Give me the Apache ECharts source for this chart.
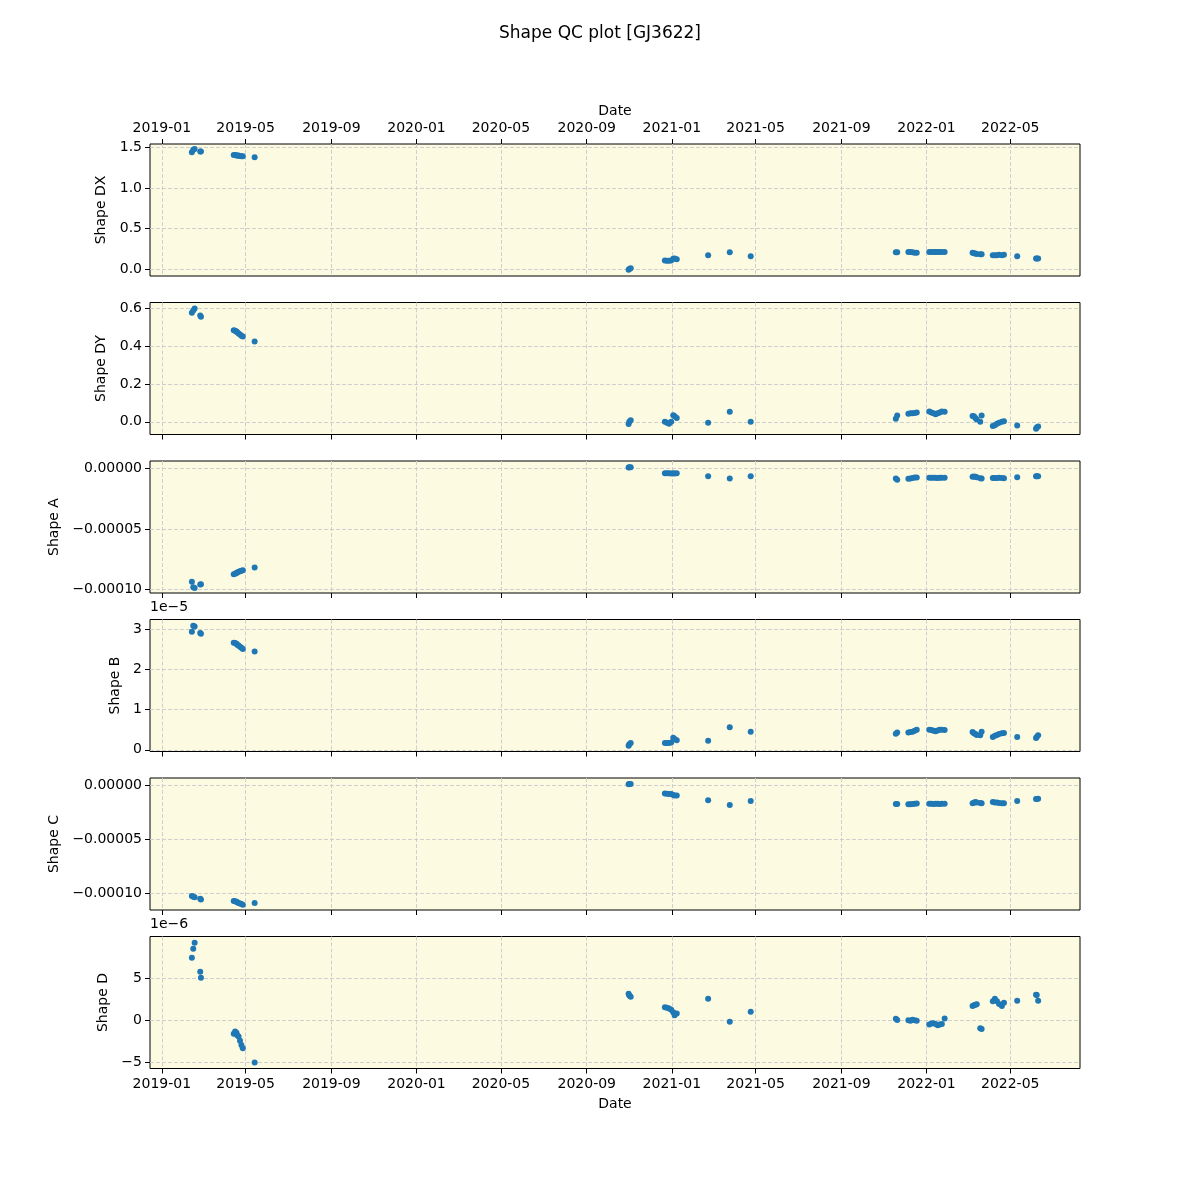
<!DOCTYPE html>
<html>
<head>
<meta charset="utf-8">
<title>Shape QC plot [GJ3622]</title>
<script src="https://cdn.jsdelivr.net/npm/echarts@6/dist/echarts.min.js"></script>
<style>
html, body { margin: 0; padding: 0; background: #fff; }
#chart { width: 1200px; height: 1200px; }
</style>
</head>
<body>
<div id="chart"></div>
<script>
// observation dates (shared by every panel)
const dates = [
    '2019-02-13', '2019-02-15', '2019-02-17', '2019-02-25', '2019-02-26',
    '2019-04-14', '2019-04-16', '2019-04-18', '2019-04-19', '2019-04-21', '2019-04-23', '2019-04-25', '2019-04-27',
    '2019-05-14',
    '2020-10-31', '2020-11-01', '2020-11-03',
    '2020-12-22', '2020-12-25', '2020-12-28', '2020-12-31', '2021-01-03', '2021-01-05', '2021-01-08',
    '2021-02-22', '2021-03-25', '2021-04-24',
    '2021-11-18', '2021-11-20',
    '2021-12-06', '2021-12-09', '2021-12-12', '2021-12-15', '2021-12-18',
    '2022-01-05', '2022-01-08', '2022-01-11', '2022-01-14', '2022-01-17', '2022-01-20', '2022-01-23', '2022-01-27',
    '2022-03-08', '2022-03-10', '2022-03-12', '2022-03-14', '2022-03-19', '2022-03-21',
    '2022-04-06', '2022-04-09', '2022-04-12', '2022-04-15', '2022-04-19', '2022-04-22',
    '2022-05-11',
    '2022-06-07', '2022-06-08', '2022-06-10',
]

const shapeDX = [
    1.44, 1.47, 1.48, 1.45, 1.45,
    1.405, 1.405, 1.40, 1.40, 1.40, 1.395, 1.39, 1.39,
    1.38,
    -0.01, 0.0, 0.01,
    0.105, 0.10, 0.10, 0.105, 0.125, 0.13, 0.12,
    0.17, 0.207, 0.158,
    0.207, 0.207,
    0.21, 0.21, 0.205, 0.20, 0.20,
    0.21, 0.21, 0.21, 0.21, 0.21, 0.21, 0.21, 0.21,
    0.20, 0.195, 0.19, 0.185, 0.18, 0.18,
    0.17, 0.17, 0.17, 0.175, 0.17, 0.175,
    0.158,
    0.13, 0.13, 0.13,
]

const shapeDY = [
    0.578, 0.59, 0.60, 0.563, 0.557,
    0.485, 0.483, 0.478, 0.474, 0.468, 0.462, 0.456, 0.452,
    0.425,
    -0.012, 0.0, 0.008,
    0.0, -0.005, -0.01, 0.0, 0.035, 0.03, 0.02,
    -0.005, 0.053, 0.0,
    0.016, 0.033,
    0.043, 0.045, 0.046, 0.047, 0.05,
    0.055, 0.05, 0.045, 0.04, 0.045, 0.05, 0.055, 0.053,
    0.031, 0.03, 0.02, 0.012, 0.0, 0.033,
    -0.022, -0.018, -0.01, -0.005, 0.0, 0.003,
    -0.02,
    -0.037, -0.03, -0.025,
]

const shapeA = [
    -9.34e-5, -9.80e-5, -9.86e-5, -9.58e-5, -9.56e-5,
    -8.72e-5, -8.68e-5, -8.62e-5, -8.58e-5, -8.52e-5, -8.48e-5, -8.44e-5, -8.40e-5,
    -8.18e-5,
    0.10e-5, 0.12e-5, 0.12e-5,
    -0.37e-5, -0.38e-5, -0.38e-5, -0.39e-5, -0.38e-5, -0.39e-5, -0.37e-5,
    -0.63e-5, -0.80e-5, -0.63e-5,
    -0.80e-5, -0.91e-5,
    -0.82e-5, -0.80e-5, -0.76e-5, -0.73e-5, -0.72e-5,
    -0.75e-5, -0.75e-5, -0.74e-5, -0.75e-5, -0.76e-5, -0.75e-5, -0.74e-5, -0.75e-5,
    -0.66e-5, -0.65e-5, -0.66e-5, -0.70e-5, -0.78e-5, -0.80e-5,
    -0.76e-5, -0.77e-5, -0.76e-5, -0.75e-5, -0.77e-5, -0.78e-5,
    -0.71e-5,
    -0.63e-5, -0.63e-5, -0.62e-5,
]

const shapeB = [
    2.93e-5, 3.08e-5, 3.06e-5, 2.90e-5, 2.88e-5,
    2.66e-5, 2.65e-5, 2.63e-5, 2.61e-5, 2.59e-5, 2.56e-5, 2.53e-5, 2.50e-5,
    2.44e-5,
    0.10e-5, 0.14e-5, 0.17e-5,
    0.17e-5, 0.17e-5, 0.17e-5, 0.18e-5, 0.30e-5, 0.27e-5, 0.24e-5,
    0.224e-5, 0.56e-5, 0.448e-5,
    0.40e-5, 0.43e-5,
    0.43e-5, 0.44e-5, 0.45e-5, 0.47e-5, 0.50e-5,
    0.50e-5, 0.49e-5, 0.47e-5, 0.46e-5, 0.48e-5, 0.50e-5, 0.50e-5, 0.49e-5,
    0.44e-5, 0.41e-5, 0.39e-5, 0.37e-5, 0.36e-5, 0.45e-5,
    0.32e-5, 0.35e-5, 0.37e-5, 0.39e-5, 0.41e-5, 0.42e-5,
    0.32e-5,
    0.29e-5, 0.32e-5, 0.36e-5,
]

const shapeC = [
    -10.25e-5, -10.32e-5, -10.38e-5, -10.52e-5, -10.58e-5,
    -10.72e-5, -10.75e-5, -10.80e-5, -10.85e-5, -10.90e-5, -10.95e-5, -11.00e-5, -11.08e-5,
    -10.90e-5,
    0.15e-5, 0.16e-5, 0.17e-5,
    -0.73e-5, -0.74e-5, -0.76e-5, -0.78e-5, -0.85e-5, -0.90e-5, -0.90e-5,
    -1.34e-5, -1.80e-5, -1.43e-5,
    -1.71e-5, -1.71e-5,
    -1.72e-5, -1.72e-5, -1.70e-5, -1.68e-5, -1.66e-5,
    -1.68e-5, -1.68e-5, -1.69e-5, -1.68e-5, -1.68e-5, -1.69e-5, -1.68e-5, -1.68e-5,
    -1.62e-5, -1.58e-5, -1.52e-5, -1.55e-5, -1.60e-5, -1.62e-5,
    -1.52e-5, -1.55e-5, -1.57e-5, -1.60e-5, -1.63e-5, -1.64e-5,
    -1.43e-5,
    -1.24e-5, -1.24e-5, -1.22e-5,
]

const shapeD = [
    7.5e-6, 8.57e-6, 9.29e-6, 5.83e-6, 5.12e-6,
    -1.55e-6, -1.3e-6, -1.45e-6, -1.75e-6, -1.9e-6, -2.4e-6, -2.9e-6, -3.3e-6,
    -5.0e-6,
    3.2e-6, 3.0e-6, 2.85e-6,
    1.6e-6, 1.55e-6, 1.45e-6, 1.3e-6, 1.0e-6, 0.65e-6, 0.85e-6,
    2.62e-6, -0.12e-6, 1.07e-6,
    0.24e-6, 0.07e-6,
    0.05e-6, 0.0, 0.1e-6, 0.05e-6, 0.0,
    -0.45e-6, -0.35e-6, -0.3e-6, -0.4e-6, -0.55e-6, -0.45e-6, -0.4e-6, 0.25e-6,
    1.75e-6, 1.85e-6, 1.9e-6, 1.95e-6, -0.9e-6, -1.0e-6,
    2.3e-6, 2.6e-6, 2.3e-6, 2.0e-6, 1.75e-6, 2.15e-6,
    2.38e-6,
    3.1e-6, 3.05e-6, 2.38e-6,
]

// tick positions
const dateTicks = [
    '2019-01-01', '2019-05-01', '2019-09-01', '2020-01-01', '2020-05-01', '2020-09-01',
    '2021-01-01', '2021-05-01', '2021-09-01', '2022-01-01', '2022-05-01',
]
const dxTicks = [0, 0.5, 1.0, 1.5]
const dyTicks = [0, 0.2, 0.4, 0.6]
const aTicks = [-1e-4, -5e-5, 0]
const bTicks = [0, 1e-5, 2e-5, 3e-5]
const cTicks = [-1e-4, -5e-5, 0]
const dTicks = [-5e-6, 0, 5e-6]

const FONT = 'DejaVu Sans'
const BLUE = '#1f77b4'
const panelTops = [144, 302.5, 461, 619.5, 778, 936.5]
const panelHeight = 132

const minusSign = s => s.replace('-', '\u2212')
const fixed = n => v => minusSign(Math.abs(v) < 1e-15 ? (0).toFixed(n) : v.toFixed(n))
const scaled = s => v => minusSign(String(Math.round(v / s)))

const panels = [
    { name: 'Shape DX', values: shapeDX, min: -0.087, max: 1.542, ticks: dxTicks, fmt: fixed(1), gap: 30 },
    { name: 'Shape DY', values: shapeDY, min: -0.067, max: 0.632, ticks: dyTicks, fmt: fixed(1), gap: 30 },
    { name: 'Shape A', values: shapeA, min: -1.028e-4, max: 6.4e-6, ticks: aTicks, fmt: fixed(5), gap: 79 },
    { name: 'Shape B', values: shapeB, min: -0.042e-5, max: 3.234e-5, ticks: bTicks, fmt: scaled(1e-5), gap: 22, offset: '1e\u22125' },
    { name: 'Shape C', values: shapeC, min: -1.156e-4, max: 7.2e-6, ticks: cTicks, fmt: fixed(5), gap: 79 },
    { name: 'Shape D', values: shapeD, min: -5.71e-6, max: 10.04e-6, ticks: dTicks, fmt: scaled(1e-6), gap: 30, offset: '1e\u22126' },
]

// dates go on a plain value axis as epoch milliseconds
const toTime = s => Date.parse(s + 'T00:00:00Z')
const fmtMonth = value => {
    const d = new Date(value)
    return d.getUTCFullYear() + '-' + String(d.getUTCMonth() + 1).padStart(2, '0')
}

const dashed = { type: [4, 2], color: '#cfcfcf', width: 1 }
const last = panels.length - 1
const xTickValues = dateTicks.map(toTime)

const chart = echarts.init(document.getElementById('chart'), null, { renderer: 'canvas' })

chart.setOption({
    animation: false,
    backgroundColor: '#ffffff',
    textStyle: { fontFamily: FONT },
    title: {
        text: 'Shape QC plot [GJ3622]',
        left: 'center',
        top: 20,
        textStyle: { fontFamily: FONT, fontSize: 17, fontWeight: 'normal', color: '#000' },
    },
    grid: panels.map((p, i) => ({
        left: 150,
        right: 120,
        top: panelTops[i],
        height: panelHeight,
        show: true,
        backgroundColor: '#fcfbe2',
        borderColor: '#000',
        borderWidth: 1,
    })),
    xAxis: panels.map((p, i) => ({
        type: 'value',
        gridIndex: i,
        position: i === 0 ? 'top' : 'bottom',
        min: toTime('2018-12-15'),
        max: toTime('2022-08-09'),
        name: i === 0 || i === last ? 'Date' : '',
        nameLocation: 'middle',
        nameGap: i === 0 ? 26 : 29,
        nameTextStyle: { fontFamily: FONT, fontSize: 14, color: '#000' },
        axisLine: { show: false, onZero: false },
        axisTick: {
            show: true,
            length: 5,
            lineStyle: { color: '#000' },
            customValues: xTickValues,
        },
        axisLabel: {
            show: i === 0 || i === last,
            margin: 9,
            fontFamily: FONT,
            fontSize: 14,
            color: '#000',
            customValues: xTickValues,
            formatter: fmtMonth,
        },
        splitLine: { show: true, lineStyle: dashed },
    })),
    yAxis: panels.map((p, i) => ({
        type: 'value',
        gridIndex: i,
        min: p.min,
        max: p.max,
        name: p.name,
        nameLocation: 'middle',
        nameRotate: 90,
        nameGap: p.gap,
        nameTextStyle: { fontFamily: FONT, fontSize: 14, color: '#000' },
        axisLine: { show: false, onZero: false },
        axisTick: {
            show: true,
            length: 5,
            lineStyle: { color: '#000' },
            customValues: p.ticks,
        },
        axisLabel: {
            margin: 8,
            fontFamily: FONT,
            fontSize: 14,
            color: '#000',
            customValues: p.ticks,
            formatter: p.fmt,
        },
        splitLine: { show: true, lineStyle: dashed },
    })),
    graphic: panels
        .map((p, i) => p.offset ? {
            type: 'text',
            left: 150,
            top: panelTops[i] - 19,
            style: { text: p.offset, font: '14px "DejaVu Sans"', fill: '#000' },
        } : null)
        .filter(Boolean),
    series: panels.map((p, i) => ({
        type: 'scatter',
        xAxisIndex: i,
        yAxisIndex: i,
        symbol: 'circle',
        symbolSize: 6,
        itemStyle: { color: BLUE, opacity: 1 },
        data: dates.map((d, k) => [toTime(d), p.values[k]]),
    })),
})
</script>
</body>
</html>
